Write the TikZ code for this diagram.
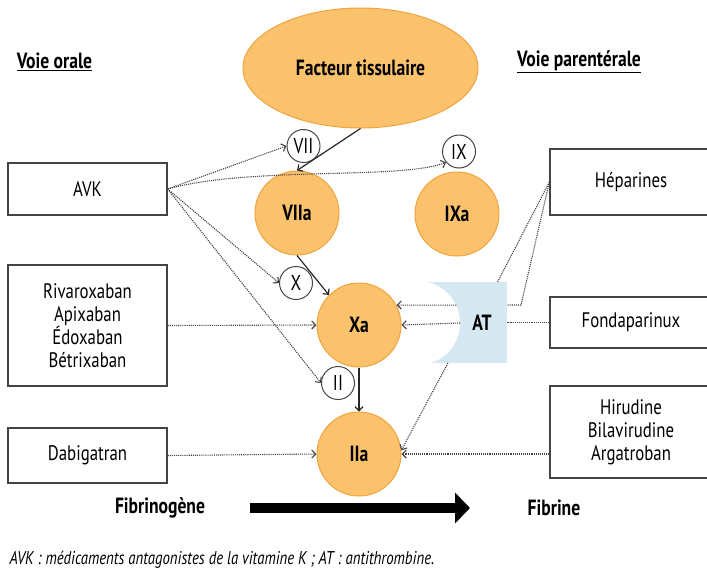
\documentclass[tikz,border=0pt]{standalone}
\usepackage{fontspec}
\setmainfont{PT Sans}[FakeStretch=0.8]
\usetikzlibrary{arrows.meta,shapes.geometric,calc}
\definecolor{facteur}{HTML}{FBC26E}
\definecolor{facteurline}{HTML}{F0A43C}
\definecolor{atfill}{HTML}{D6E8F2}
\definecolor{linegray}{HTML}{444444}
\tikzset{
  drugbox/.style={draw=linegray, line width=1.3pt, minimum width=159pt, inner sep=0pt, align=center,
    font=\fontsize{21}{23}\selectfont},
  factor/.style={circle, draw=facteurline, fill=facteur, line width=1pt, minimum size=84pt, inner sep=0pt,
    font=\bfseries\fontsize{22}{24}\selectfont},
  proenz/.style={circle, draw=linegray, fill=white, line width=1pt, minimum size=33pt, inner sep=0pt,
    font=\fontsize{21.5}{22}\selectfont},
  heading/.style={font=\bfseries\fontsize{22}{24}\selectfont},
  activ/.style={black!85, line width=1.2pt, -{Straight Barb[length=4pt,width=8pt]}},
  inhib/.style={linegray, line width=1.1pt, densely dotted, -{Straight Barb[length=4pt,width=8pt]}},
  link/.style={linegray, line width=1.1pt, densely dotted},
}
\begin{document}
\begin{tikzpicture}[x=1pt,y=-1pt]
    \useasboundingbox (0,0) rectangle (707,571);

    \node[heading] (oral) at (54.5,62) {\underline{Voie orale}};
    \node[heading] (parent) at (579,62) {\underline{Voie parentérale}};
    \node[ellipse, draw=facteurline, fill=facteur, line width=1pt, minimum width=235pt, minimum height=120pt,
      heading] (tf) at (360.5,68) {Facteur tissulaire};

    \node[drugbox, minimum height=52pt] (avk) at (87.5,189) {AVK};
    \node[drugbox, minimum height=121pt] (xaban) at (87.5,325.5) {Rivaroxaban\\Apixaban\\Édoxaban\\Bétrixaban};
    \node[drugbox, minimum height=55pt] (dabi) at (87.5,455.5) {Dabigatran};
    \node[drugbox, minimum width=162pt, minimum height=66pt] (hep) at (631,182) {Héparines};
    \node[drugbox, minimum width=162pt, minimum height=51pt] (fonda) at (631,322.5) {Fondaparinux};
    \node[drugbox, minimum width=162pt, minimum height=92pt] (hiru) at (631,432) {Hirudine\\Bilavirudine\\Argatroban};

    \node[factor] (viia) at (297,213) {VIIa};
    \node[factor] (ixa) at (457,214) {IXa};
    \node[factor] (xa) at (359,325) {Xa};
    \node[factor] (iia) at (359,454) {IIa};
    \node[proenz] (vii) at (303.5,146) {VII};
    \node[proenz] (ix) at (459,151.5) {IX};
    \node[proenz] (x) at (296,283) {X};
    \node[proenz] (ii) at (338,383) {II};

    \node[fill=atfill, minimum width=87pt, minimum height=81pt, inner sep=0pt] (at) at (463.5,322.5) {};
    \node[circle, minimum size=84pt, inner sep=0pt] (atbite) at (418,323) {};
    \begin{scope}
      \clip (at.south west) rectangle (at.north east);
      \fill[white] (atbite.center) circle[radius=42pt];
    \end{scope}
    \node[heading] (atlabel) at (482,323) {AT};

    \draw[activ] (tf.south) -- (viia.north);
    \draw[activ] (viia.south) -- (xa.north west);
    \draw[activ] (xa) -- (iia);

    \draw[inhib] (avk.east) -- (vii.west);
    \draw[inhib] (avk.east) .. controls (250,166) and (400,180) .. (ix.220);
    \draw[inhib] (avk.east) -- (x.west);
    \draw[inhib] (avk.east) -- (ii.west);
    \draw[inhib] (xaban.east) -- (xa.west);
    \draw[inhib] (dabi.east) -- (iia.west);

    \coordinate (hepbend) at (521,305);
    \draw[link] (hep.west) -- (at.50);
    \draw[link] (hep.west) -- (hepbend) -- (hepbend -| at.east);
    \draw[link] (fonda.west) -- (at.east);
    \draw[inhib] (atbite.25) -- (xa.28);
    \draw[inhib] (atbite.east) -- (xa.east);
    \draw[inhib] (at.249) -- (iia.5);
    \draw[inhib] (iia.east -| hiru.west) -- (iia.east);

    \node[heading] (fbg) at (160,508) {Fibrinogène};
    \node[heading] (fbn) at (554,508) {Fibrine};
    \coordinate (flowstart) at (250,508);
    \coordinate (flowend) at (470,508);
    \draw[line width=10pt, -{Triangle[length=15pt,width=30pt]}] (flowstart) -- (flowend);

    \node[anchor=west, font=\itshape\fontsize{18.5}{20}\selectfont] (note) at (6,560)
      {AVK : médicaments antagonistes de la vitamine K ; AT : antithrombine.};
\end{tikzpicture}
\end{document}
